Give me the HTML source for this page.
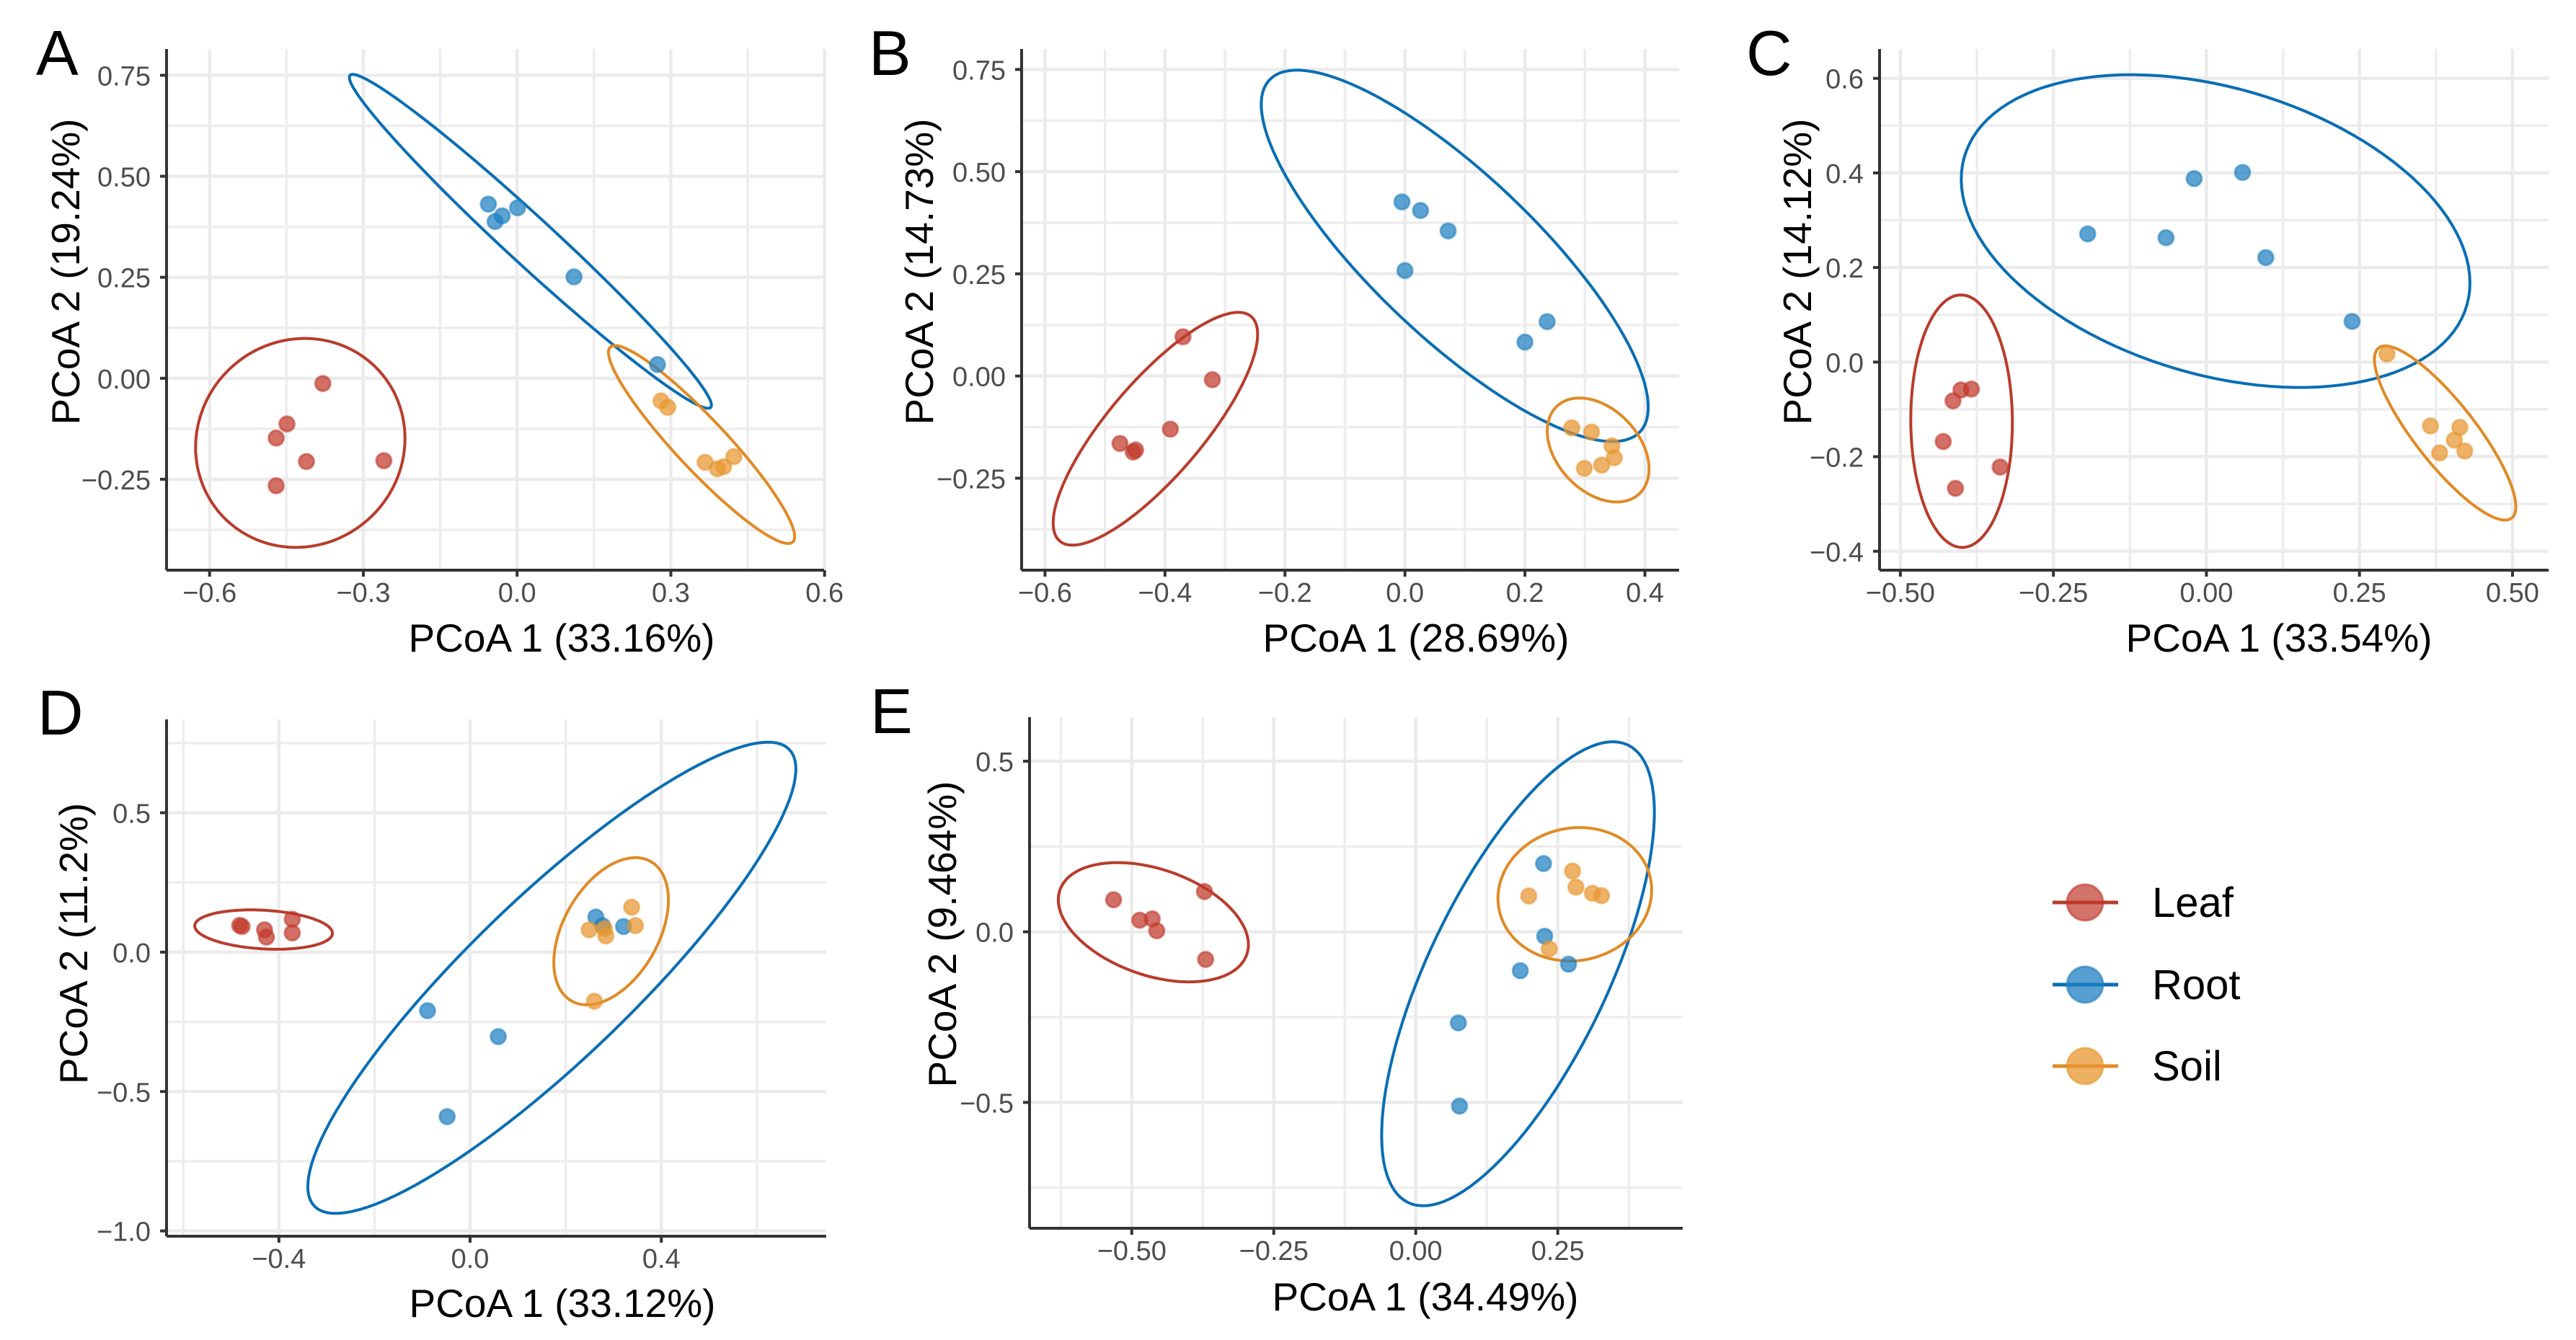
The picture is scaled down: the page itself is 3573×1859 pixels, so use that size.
<!DOCTYPE html>
<html><head><meta charset="utf-8"><title>PCoA panels</title>
<style>
html,body{margin:0;padding:0;background:#fff;}
svg{display:block;font-family:"Liberation Sans",Arial,sans-serif;}
</style></head>
<body>
<svg id="fig" xmlns="http://www.w3.org/2000/svg" width="3573" height="1859" viewBox="0 0 3573 1859">
<rect x="0" y="0" width="3573" height="1859" fill="#fff"/>
<g id="legend">
  <g>
    <line x1="2847" y1="1252" x2="2938" y2="1252" stroke="#b83c2c" stroke-width="5"/>
    <circle cx="2892" cy="1252" r="25" fill="#c0392b" fill-opacity="0.7" stroke="#c0392b" stroke-opacity="0.6" stroke-width="3"/>
    <text x="2985" y="1272" font-size="58" fill="#000">Leaf</text>
  </g>
  <g>
    <line x1="2847" y1="1366" x2="2938" y2="1366" stroke="#0a6eb4" stroke-width="5"/>
    <circle cx="2892" cy="1366" r="25" fill="#1f7fc0" fill-opacity="0.75" stroke="#1f7fc0" stroke-opacity="0.6" stroke-width="3"/>
    <text x="2985" y="1386" font-size="58" fill="#000">Root</text>
  </g>
  <g>
    <line x1="2847" y1="1479" x2="2938" y2="1479" stroke="#e08a26" stroke-width="5"/>
    <circle cx="2892" cy="1479" r="25" fill="#e8962f" fill-opacity="0.75" stroke="#e8962f" stroke-opacity="0.6" stroke-width="3"/>
    <text x="2985" y="1499" font-size="58" fill="#000">Soil</text>
  </g>
</g>
</svg>
<script>
// ---------- Panel A data ----------
const aXTicks = [-0.6, -0.3, 0, 0.3, 0.6];
const aXTickLabels = ["\u22120.6", "\u22120.3", "0.0", "0.3", "0.6"];
const aYTicks = [-0.25, 0, 0.25, 0.5, 0.75];
const aYTickLabels = ["\u22120.25", "0.00", "0.25", "0.50", "0.75"];
const aLeafX = [-0.379, -0.449, -0.470, -0.411, -0.260, -0.470];
const aLeafY = [-0.013, -0.113, -0.148, -0.206, -0.204, -0.266];
const aRootX = [-0.056, -0.043, -0.029, 0.001, 0.111, 0.274];
const aRootY = [0.431, 0.388, 0.402, 0.422, 0.251, 0.034];
const aSoilX = [0.281, 0.294, 0.367, 0.391, 0.403, 0.423];
const aSoilY = [-0.056, -0.072, -0.208, -0.224, -0.219, -0.194];
const aLeafEll = [-0.423, -0.160, -0.400, 0.098, -0.626, -0.142];
const aRootEll = [0.026, 0.339, -0.325, 0.751, -0.014, 0.306];
const aSoilEll = [0.360, -0.164, 0.184, 0.079, 0.315, -0.195];

// ---------- Panel B data ----------
const bXTicks = [-0.6, -0.4, -0.2, 0, 0.2, 0.4];
const bXTickLabels = ["\u22120.6", "\u22120.4", "\u22120.2", "0.0", "0.2", "0.4"];
const bYTicks = [-0.25, 0, 0.25, 0.5, 0.75];
const bYTickLabels = ["\u22120.25", "0.00", "0.25", "0.50", "0.75"];
const bLeafX = [-0.370, -0.321, -0.391, -0.475, -0.453, -0.449];
const bLeafY = [0.096, -0.009, -0.130, -0.165, -0.186, -0.181];
const bRootX = [-0.005, 0.026, 0.072, 0.0, 0.200, 0.237];
const bRootY = [0.426, 0.405, 0.355, 0.258, 0.083, 0.133];
const bSoilX = [0.278, 0.311, 0.345, 0.349, 0.328, 0.299];
const bSoilY = [-0.127, -0.137, -0.171, -0.200, -0.218, -0.226];
const bLeafEll = [-0.416, -0.129, -0.262, 0.151, -0.489, -0.077];
const bRootEll = [0.083, 0.294, -0.216, 0.736, -0.038, 0.189];
const bSoilEll = [0.322, -0.181, 0.270, -0.059, 0.255, -0.217];

// ---------- Panel C data ----------
const cXTicks = [-0.5, -0.25, 0, 0.25, 0.5];
const cXTickLabels = ["\u22120.50", "\u22120.25", "0.00", "0.25", "0.50"];
const cYTicks = [-0.4, -0.2, 0, 0.2, 0.4, 0.6];
const cYTickLabels = ["\u22120.4", "\u22120.2", "0.0", "0.2", "0.4", "0.6"];
const cLeafX = [-0.384, -0.401, -0.414, -0.430, -0.337, -0.410];
const cLeafY = [-0.057, -0.059, -0.082, -0.168, -0.222, -0.267];
const cRootX = [-0.194, -0.066, -0.020, 0.059, 0.097, 0.238];
const cRootY = [0.271, 0.263, 0.388, 0.401, 0.221, 0.086];
const cSoilX = [0.295, 0.366, 0.414, 0.405, 0.381, 0.422];
const cSoilY = [0.017, -0.135, -0.138, -0.165, -0.192, -0.188];
const cLeafEll = [-0.400, -0.125, -0.401, 0.142, -0.483, -0.125];
const cRootEll = [0.015, 0.277, -0.381, 0.476, -0.111, 0.013];
const cSoilEll = [0.390, -0.150, 0.284, 0.032, 0.344, -0.178];

// ---------- Panel D data ----------
const dXTicks = [-0.4, 0, 0.4];
const dXTickLabels = ["\u22120.4", "0.0", "0.4"];
const dYTicks = [-1.0, -0.5, 0, 0.5];
const dYTickLabels = ["\u22121.0", "\u22120.5", "0.0", "0.5"];
const dLeafX = [-0.482, -0.477, -0.430, -0.426, -0.372, -0.372];
const dLeafY = [0.096, 0.092, 0.080, 0.054, 0.118, 0.069];
const dRootX = [-0.089, 0.059, -0.048, 0.263, 0.277, 0.321];
const dRootY = [-0.210, -0.303, -0.590, 0.126, 0.095, 0.092];
const dSoilX = [0.338, 0.346, 0.249, 0.281, 0.284, 0.260];
const dSoilY = [0.161, 0.095, 0.080, 0.084, 0.058, -0.176];
const dLeafEll = [-0.432, 0.081, -0.288, 0.066, -0.436, 0.012];
const dRootEll = [0.171, -0.092, 0.659, 0.739, 0.321, -0.247];
const dSoilEll = [0.295, 0.075, 0.364, 0.335, 0.393, 0.029];

// ---------- Panel E data ----------
const eXTicks = [-0.5, -0.25, 0, 0.25];
const eXTickLabels = ["\u22120.50", "\u22120.25", "0.00", "0.25"];
const eYTicks = [-0.5, 0, 0.5];
const eYTickLabels = ["\u22120.5", "0.0", "0.5"];
const eLeafX = [-0.532, -0.486, -0.464, -0.456, -0.372, -0.370];
const eLeafY = [0.094, 0.034, 0.038, 0.003, 0.118, -0.081];
const eRootX = [0.225, 0.227, 0.184, 0.269, 0.075, 0.077];
const eRootY = [0.200, -0.013, -0.114, -0.095, -0.267, -0.511];
const eSoilX = [0.276, 0.282, 0.199, 0.311, 0.327, 0.235];
const eSoilY = [0.178, 0.131, 0.105, 0.113, 0.106, -0.050];
const eLeafEll = [-0.462, 0.028, -0.305, -0.090, -0.520, -0.101];
const eRootEll = [0.180, -0.123, 0.365, 0.553, 0.333, -0.198];
const eSoilEll = [0.280, 0.110, 0.415, 0.135, 0.289, -0.084];

const NS = "http://www.w3.org/2000/svg";
const svg = document.getElementById("fig");
const COL = {
  leaf: {line: "#b83c2c", fill: "#c0392b"},
  root: {line: "#0a6eb4", fill: "#1f7fc0"},
  soil: {line: "#e08a26", fill: "#e8962f"}
};

function mk(tag, attrs, parent) {
  const el = document.createElementNS(NS, tag);
  for (const k in attrs) el.setAttribute(k, attrs[k]);
  parent.appendChild(el);
  return el;
}

function drawPanel(cfg) {
  const g = mk("g", {}, svg);
  
  
  const sx = v => cfg.left + (v - cfg.xmin) / (cfg.xmax - cfg.xmin) * (cfg.right - cfg.left);
  const sy = v => cfg.bottom - (v - cfg.ymin) / (cfg.ymax - cfg.ymin) * (cfg.bottom - cfg.top);

  // minor gridlines
  function minors(t, lo, hi) {
    const out = [];
    const step = t[1] - t[0];
    for (let i = -1; i < t.length; i++) {
      const m = (i < 0 ? t[0] - step / 2 : t[i] + step / 2);
      if (m > lo && m < hi) out.push(m);
    }
    return out;
  }
  const grid = mk("g", {}, g);
  
  
  minors(cfg.xt, cfg.xmin, cfg.xmax).forEach(v => {
    mk("line", {x1: sx(v), x2: sx(v), y1: cfg.top, y2: cfg.bottom, stroke: "#ededed", "stroke-width": 3.5}, grid);
  });
  minors(cfg.yt, cfg.ymin, cfg.ymax).forEach(v => {
    mk("line", {x1: cfg.left, x2: cfg.right, y1: sy(v), y2: sy(v), stroke: "#ededed", "stroke-width": 3.5}, grid);
  });
  cfg.xt.forEach(v => {
    mk("line", {x1: sx(v), x2: sx(v), y1: cfg.top, y2: cfg.bottom, stroke: "#ebebeb", "stroke-width": 4.5}, grid);
  });
  cfg.yt.forEach(v => {
    mk("line", {x1: cfg.left, x2: cfg.right, y1: sy(v), y2: sy(v), stroke: "#ebebeb", "stroke-width": 4.5}, grid);
  });

  // ellipses
  const ells = [["leaf", cfg.leafEll], ["root", cfg.rootEll], ["soil", cfg.soilEll]];
  ells.forEach(([k, e]) => {
    const cx = e[0], cy = e[1];
    const ax = e[2] - cx, ay = e[3] - cy, bx = e[4] - cx, by = e[5] - cy;
    let d = "";
    for (let i = 0; i <= 120; i++) {
      const t = i / 120 * Math.PI * 2;
      const px = sx(cx + ax * Math.cos(t) + bx * Math.sin(t));
      const py = sy(cy + ay * Math.cos(t) + by * Math.sin(t));
      d += (i ? "L" : "M") + px.toFixed(1) + "," + py.toFixed(1);
    }
    const p = mk("path", {d: d + "Z", fill: "none", stroke: COL[k].line, "stroke-width": 4}, g);
    
    
  });

  // points
  const sets = [["leaf", cfg.leafX, cfg.leafY], ["root", cfg.rootX, cfg.rootY], ["soil", cfg.soilX, cfg.soilY]];
  sets.forEach(([k, xs, ys]) => {
    xs.forEach((xv, i) => {
      const c = mk("circle", {cx: sx(xv), cy: sy(ys[i]), r: 10.5, fill: COL[k].fill, "fill-opacity": 0.72,
        stroke: COL[k].fill, "stroke-opacity": 0.55, "stroke-width": 3}, g);
      
      
    });
  });

  // axes
  const ax = mk("line", {x1: cfg.left, x2: cfg.right, y1: cfg.bottom, y2: cfg.bottom, stroke: "#333", "stroke-width": 4}, g);
  
  
  const ay = mk("line", {x1: cfg.left, x2: cfg.left, y1: cfg.top, y2: cfg.bottom, stroke: "#333", "stroke-width": 4}, g);
  
  

  cfg.xt.forEach((v, i) => {
    mk("line", {x1: sx(v), x2: sx(v), y1: cfg.bottom, y2: cfg.bottom + 9, stroke: "#333", "stroke-width": 4}, g);
    const t = mk("text", {x: sx(v), y: cfg.bottom + 44, "font-size": 38, fill: "#4d4d4d", "text-anchor": "middle"}, g);
    t.textContent = cfg.xl[i];
    
    
  });
  cfg.yt.forEach((v, i) => {
    mk("line", {x1: cfg.left - 9, x2: cfg.left, y1: sy(v), y2: sy(v), stroke: "#333", "stroke-width": 4}, g);
    const t = mk("text", {x: cfg.left - 22, y: sy(v) + 14, "font-size": 38, fill: "#4d4d4d", "text-anchor": "end"}, g);
    t.textContent = cfg.yl[i];
    
    
  });

  const xt = mk("text", {x: cfg.xtx, y: cfg.xty, "font-size": 55, fill: "#000", "text-anchor": "middle"}, g);
  xt.textContent = cfg.xtitle;
  
  
  const yt = mk("text", {x: 0, y: 0, "font-size": 55, fill: "#000", "text-anchor": "middle",
    transform: "translate(" + cfg.ytx + "," + cfg.yty + ") rotate(-90)"}, g);
  yt.textContent = cfg.ytitle;
  
  
  const lt = mk("text", {x: cfg.lx, y: cfg.ly, "font-size": 88, fill: "#000"}, g);
  lt.textContent = cfg.id;
  
  
}

drawPanel({id: "A", left: 231, right: 1143, top: 68, bottom: 791, xmin: -0.684, xmax: 0.599, ymin: -0.475, ymax: 0.815,
  xt: aXTicks, xl: aXTickLabels, yt: aYTicks, yl: aYTickLabels,
  leafX: aLeafX, leafY: aLeafY, rootX: aRootX, rootY: aRootY, soilX: aSoilX, soilY: aSoilY,
  leafEll: aLeafEll, rootEll: aRootEll, soilEll: aSoilEll,
  xtitle: "PCoA 1 (33.16%)", ytitle: "PCoA 2 (19.24%)", xtx: 779, xty: 904, ytx: 110, yty: 377, lx: 50, ly: 104});

drawPanel({id: "B", left: 1417, right: 2329, top: 68, bottom: 791, xmin: -0.639, xmax: 0.457, ymin: -0.475, ymax: 0.800,
  xt: bXTicks, xl: bXTickLabels, yt: bYTicks, yl: bYTickLabels,
  leafX: bLeafX, leafY: bLeafY, rootX: bRootX, rootY: bRootY, soilX: bSoilX, soilY: bSoilY,
  leafEll: bLeafEll, rootEll: bRootEll, soilEll: bSoilEll,
  xtitle: "PCoA 1 (28.69%)", ytitle: "PCoA 2 (14.73%)", xtx: 1964, xty: 904, ytx: 1294, yty: 377, lx: 1205, ly: 104});

drawPanel({id: "C", left: 2607, right: 3535, top: 68, bottom: 791, xmin: -0.534, xmax: 0.559, ymin: -0.440, ymax: 0.662,
  xt: cXTicks, xl: cXTickLabels, yt: cYTicks, yl: cYTickLabels,
  leafX: cLeafX, leafY: cLeafY, rootX: cRootX, rootY: cRootY, soilX: cSoilX, soilY: cSoilY,
  leafEll: cLeafEll, rootEll: cRootEll, soilEll: cSoilEll,
  xtitle: "PCoA 1 (33.54%)", ytitle: "PCoA 2 (14.12%)", xtx: 3161, xty: 904, ytx: 2512, yty: 377, lx: 2422, ly: 104});

drawPanel({id: "D", left: 231, right: 1146, top: 998, bottom: 1715, xmin: -0.635, xmax: 0.745, ymin: -1.019, ymax: 0.835,
  xt: dXTicks, xl: dXTickLabels, yt: dYTicks, yl: dYTickLabels,
  leafX: dLeafX, leafY: dLeafY, rootX: dRootX, rootY: dRootY, soilX: dSoilX, soilY: dSoilY,
  leafEll: dLeafEll, rootEll: dRootEll, soilEll: dSoilEll,
  xtitle: "PCoA 1 (33.12%)", ytitle: "PCoA 2 (11.2%)", xtx: 780, xty: 1827, ytx: 121, yty: 1309, lx: 52, ly: 1019});

drawPanel({id: "E", left: 1428, right: 2334, top: 995, bottom: 1704, xmin: -0.680, xmax: 0.470, ymin: -0.869, ymax: 0.629,
  xt: eXTicks, xl: eXTickLabels, yt: eYTicks, yl: eYTickLabels,
  leafX: eLeafX, leafY: eLeafY, rootX: eRootX, rootY: eRootY, soilX: eSoilX, soilY: eSoilY,
  leafEll: eLeafEll, rootEll: eRootEll, soilEll: eSoilEll,
  xtitle: "PCoA 1 (34.49%)", ytitle: "PCoA 2 (9.464%)", xtx: 1977, xty: 1818, ytx: 1326, yty: 1296, lx: 1207, ly: 1017});

// keep legend on top
svg.appendChild(document.getElementById("legend"));
</script>
</body></html>
